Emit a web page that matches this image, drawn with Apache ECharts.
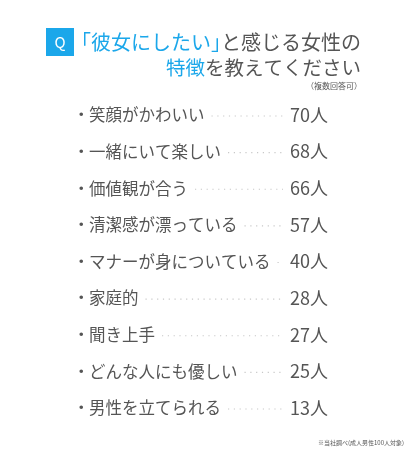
<!DOCTYPE html>
<html><head><meta charset="utf-8">
<script src="https://cdn.jsdelivr.net/npm/echarts@6/dist/echarts.min.js"></script>
<style>html,body{margin:0;padding:0;background:#fff;}#c{width:409px;height:450px;}</style>
</head><body><div id="c"></div>
<script>
const categories = ['笑顔がかわいい','一緒にいて楽しい','価値観が合う','清潔感が漂っている','マナーが身についている','家庭的','聞き上手','どんな人にも優しい','男性を立てられる'];
const values = [70,68,66,57,40,28,27,25,13];
const unit = '人';

const FONT = '"Noto Sans CJK JP","Noto Sans",sans-serif';
const GRAY = '#555555';
const BLUE = '#1ba7ea';
const labelSize = 16.5;
const cv = document.createElement('canvas').getContext('2d');
cv.font = labelSize + 'px ' + FONT;

const chart = echarts.init(document.getElementById('c'), null, {renderer:'canvas'});
chart.setOption({
  backgroundColor:'#fff',
  animation:false,
  graphic:[
    {type:'rect',shape:{x:46,y:28,width:28,height:28},style:{fill:BLUE}},
    {type:'text',x:60,y:42,style:{text:'Q',fill:'#fff',font:'15px '+FONT,align:'center',verticalAlign:'middle'}},
    {type:'text',x:361,y:42,style:{
      text:'{b|｢彼女にしたい｣}{g|と感じる女性の}',align:'right',verticalAlign:'middle',
      rich:{b:{fill:BLUE,fontSize:20,fontFamily:FONT},g:{fill:GRAY,fontSize:20,fontFamily:FONT}}}},
    {type:'text',x:361,y:68,style:{
      text:'{b|特徴}{g|を教えてください}',align:'right',verticalAlign:'middle',
      rich:{b:{fill:BLUE,fontSize:19.5,fontFamily:FONT},g:{fill:GRAY,fontSize:19.5,fontFamily:FONT}}}},
    {type:'text',x:362,y:86,style:{text:'（複数回答可）',fill:GRAY,font:'8px '+FONT,align:'right',verticalAlign:'middle'}},
    {type:'text',x:404,y:443,style:{text:'※当社調べ(成人男性100人対象)',fill:GRAY,font:'6px '+FONT,align:'right',verticalAlign:'middle'}}
  ],
  grid:{left:0,right:0,top:96.7,bottom:23.7},
  xAxis:{type:'value',min:0,max:1,show:false},
  yAxis:{type:'category',data:categories,inverse:true,show:false},
  series:[{
    type:'custom',
    data:values.map((v,i)=>[0,i,v]),
    encode:{x:0,y:1},
    renderItem:function(params,api){
      const i = api.value(1);
      const y = api.coord([0,i])[1];
      const label = categories[i];
      const w = cv.measureText(label).width;
      const x0 = 89;
      const children = [
        {type:'text',x:73,y:y,style:{text:'・',fill:GRAY,font:labelSize+'px '+FONT,verticalAlign:'middle',align:'left'}},
        {type:'text',x:x0,y:y,style:{text:label,fill:GRAY,font:labelSize+'px '+FONT,verticalAlign:'middle',align:'left'}},
        {type:'line',shape:{x1:x0+w+7,y1:y+1,x2:283,y2:y+1},style:{stroke:'#c8c8c8',lineWidth:1.2,lineDash:[1.2,4.6]}},
        {type:'text',x:290,y:y,style:{text:api.value(2)+unit,fill:GRAY,font:'18px '+FONT,verticalAlign:'middle',align:'left'}}
      ];
      return {type:'group',children:children};
    }
  }]
});
</script></body></html>
